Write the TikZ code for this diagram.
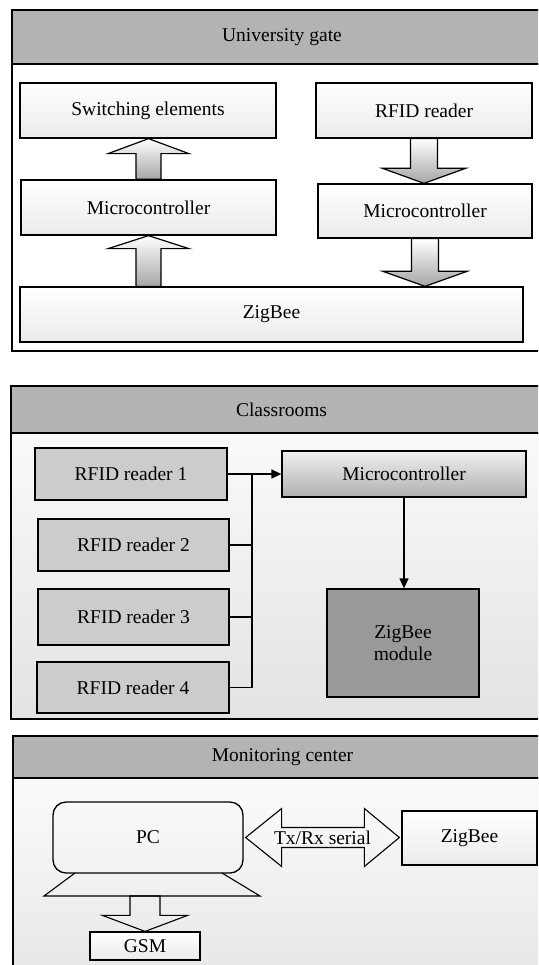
\documentclass[tikz,border=0pt]{standalone}
\usepackage{fontspec}
\setmainfont{Liberation Serif}
\usetikzlibrary{arrows.meta,calc}
\definecolor{hdrgray}{HTML}{B3B3B3}
\definecolor{rfidgray}{HTML}{CCCCCC}
\definecolor{modgray}{HTML}{999999}
\newcommand\fatv[6]{% #1 base, #2 tip, #3 head-base offset, #4 shaft half, #5 head half, #6 style
  \path[#6] let \p1=(#1), \p2=(#2) in
    ({\x1-#4},\y1) -- ({\x1-#4},{\y2+(#3)}) -- ({\x1-#5},{\y2+(#3)}) -- (\x1,\y2)
    -- ({\x1+#5},{\y2+(#3)}) -- ({\x1+#4},{\y2+(#3)}) -- ({\x1+#4},\y1) -- cycle;}
\begin{document}
\begin{tikzpicture}[x=1pt,y=-1pt,
  font=\fontsize{19.5}{22}\selectfont,
  panelline/.style={draw=black,line width=1.8pt},
  hdrbox/.style={panelline,fill=hdrgray,inner sep=0pt},
  gbox/.style={draw=black,line width=1.3pt,top color=white,bottom color=gray!16,inner sep=0pt},
  rfidbox/.style={draw=black,line width=1.3pt,fill=rfidgray,inner sep=0pt},
  fatarr/.style={draw=black,line width=1.2pt,top color=white,bottom color=gray!70},
  openarr/.style={draw=black,line width=1.1pt},
  conn/.style={draw=black,line width=1.3pt},
  tip/.style={-{Triangle[length=10pt,width=9pt]}}
]
\useasboundingbox (0,0) rectangle (538,965);
\clip (0,0) rectangle (538,965);

% ---------- Panel 1: University gate ----------
\path[panelline,fill=white] (12,64) rectangle (552,351);
\node[hdrbox,minimum width=540pt,minimum height=54pt] (h1) at (282,37) {University gate};

\node[gbox,minimum width=256pt,minimum height=55pt] (sw) at (148,110.5) {Switching elements};
\node[gbox,minimum width=216pt,minimum height=55pt] (rf) at (424,110.5) {RFID reader};
\node[gbox,minimum width=255pt,minimum height=55pt] (mc1) at (148.5,207.5) {Microcontroller};
\node[gbox,minimum width=214pt,minimum height=54pt] (mcr) at (425,211) {Microcontroller};
\node[gbox,minimum width=503pt,minimum height=55pt] (zb) at (271.5,314.5) {ZigBee};

\fatv{mc1.north}{sw.south}{-15pt}{12.5pt}{40.5pt}{fatarr}
\fatv{mc1.south |- zb.north}{mc1.south}{-13pt}{12.5pt}{40.5pt}{fatarr}
\fatv{rf.south}{mcr.north}{15pt}{13.5pt}{41.5pt}{fatarr}
\fatv{mcr.south}{mcr.south |- zb.north}{15pt}{13.5pt}{42pt}{fatarr}

% ---------- Panel 2: Classrooms ----------
\path[panelline,top color=gray!4,bottom color=gray!22] (11,433) rectangle (552,719);
\node[hdrbox,minimum width=541pt,minimum height=47pt] (h2) at (281.5,409.5) {Classrooms};

\node[rfidbox,minimum width=192pt,minimum height=52pt] (r1) at (131,474) {RFID reader 1};
\node[rfidbox,minimum width=191pt,minimum height=52pt] (r2) at (133.5,545) {RFID reader 2};
\node[rfidbox,minimum width=191pt,minimum height=56pt] (r3) at (133.5,617) {RFID reader 3};
\node[rfidbox,minimum width=192pt,minimum height=51pt] (r4) at (133,687.5) {RFID reader 4};
\node[draw=black,line width=1.3pt,top color=gray!12,bottom color=gray!62,inner sep=0pt,
      minimum width=244pt,minimum height=46pt] (mc2) at (404,474) {Microcontroller};
\node[draw=black,line width=1.3pt,fill=modgray,inner sep=0pt,align=center,
      minimum width=152pt,minimum height=108pt] (zm) at (403,643) {ZigBee\\module};

\coordinate (bus) at (252,474);
\draw[conn,tip] (r1.east) -- (mc2.west);
\draw[conn] (r2.east) -- (r2.east -| bus);
\draw[conn] (r3.east) -- (r3.east -| bus);
\draw[conn] (r4.east) -| (bus);
\draw[conn,tip] (mc2.south) -- (mc2.south |- zm.north);

% ---------- Panel 3: Monitoring center ----------
\path[panelline,top color=gray!3,bottom color=gray!20] (13,778) rectangle (552,990);
\node[hdrbox,minimum width=539pt,minimum height=42pt] (h3) at (282.5,757) {Monitoring center};

\node[draw=black,line width=1.3pt,rounded corners=13pt,inner sep=0pt,
      minimum width=190pt,minimum height=71pt] (pc) at (148,837.5) {PC};
\draw[line width=1.1pt] (75,873) -- (44,896) -- (260,896) -- (222,873);
\coordinate (pcb) at (146,896);
\node[gbox,line width=1.2pt,minimum width=110pt,minimum height=28pt] (gsm) at (145,946) {GSM};
\node[gbox,minimum width=135pt,minimum height=54pt] (zb3) at (469.5,838) {ZigBee};

\fatv{gsm.north |- pcb}{gsm.north}{16pt}{15pt}{42.5pt}{openarr}

\path[openarr] let \p1=(pc.east), \p2=(zb3.west) in
  ({\x1+2pt},\y1) -- ({\x1+38pt},{\y1+29pt}) -- ({\x1+38pt},{\y1+10pt})
  -- ({\x2-37pt},{\y1+10pt}) -- ({\x2-37pt},{\y1+29pt}) -- ({\x2-2pt},\y1)
  -- ({\x2-37pt},{\y1-29pt}) -- ({\x2-37pt},{\y1-10pt}) -- ({\x1+38pt},{\y1-10pt})
  -- ({\x1+38pt},{\y1-29pt}) -- cycle;
\node[inner sep=0pt] (txrx) at ($(pc.east)!0.5!(zb3.west)$) {Tx/Rx serial};
\end{tikzpicture}
\end{document}
